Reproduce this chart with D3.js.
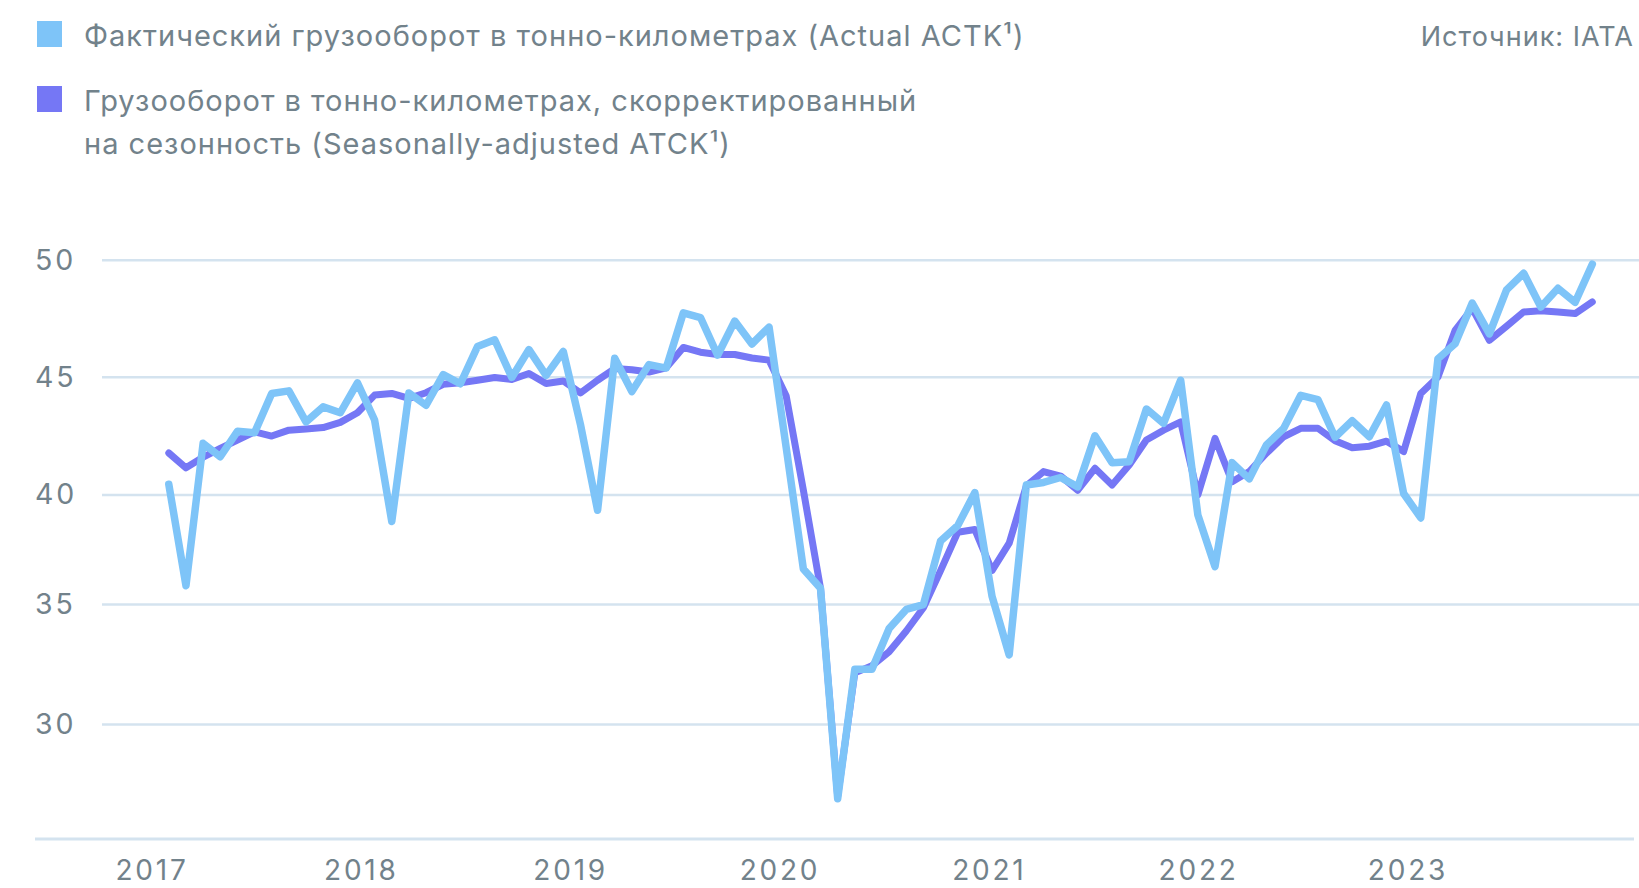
<!DOCTYPE html>
<html>
<head>
<meta charset="utf-8">
<script src="https://cdn.jsdelivr.net/npm/d3@7"></script>
<style>
  html, body { margin: 0; padding: 0; background: #ffffff; }
  svg { display: block; }
  text { font-family: "Inter", "Noto Sans", sans-serif; }
</style>
</head>
<body>
<svg id="chart" width="1639" height="888"></svg>
<script>
// ---- data ----
const years = [2017, 2018, 2019, 2020, 2021, 2022, 2023];
const monthNums = ["01","02","03","04","05","06","07","08","09","10","11","12"];
const months = years.flatMap(y => monthNums.map(m => `${y}-${m}`));

const yTicks = [30, 35, 40, 45, 50];

// Actual ACTK (billions), Jan 2017 – Dec 2023
const actual = [
  40.45, 35.86, 42.19, 41.62, 42.70, 42.64, 44.31, 44.42, 43.10, 43.74, 43.49, 44.76,
  43.18, 38.79, 44.33, 43.81, 45.11, 44.72, 46.31, 46.60, 44.99, 46.18, 45.08, 46.10,
  43.00, 39.30, 45.81, 44.39, 45.54, 45.39, 47.75, 47.55, 45.94, 47.40, 46.42, 47.14,
  42.00, 36.62, 35.74, 26.90, 32.30, 32.30, 34.00, 34.80, 35.00, 37.90, 38.60, 40.10,
  35.38, 32.90, 40.42, 40.53, 40.74, 40.34, 42.51, 41.37, 41.41, 43.65, 43.04, 44.87,
  39.09, 36.73, 41.37, 40.68, 42.12, 42.82, 44.23, 44.05, 42.45, 43.15, 42.47, 43.82,
  40.06, 38.95, 45.79, 46.43, 48.17, 46.85, 48.73, 49.44, 48.00, 48.80, 48.20, 49.83
];

// Seasonally-adjusted ACTK
const seasonal = [
  41.78, 41.15, 41.60, 41.98, 42.33, 42.68, 42.50, 42.75, 42.80, 42.86, 43.08, 43.49,
  44.24, 44.31, 44.10, 44.34, 44.70, 44.76, 44.87, 44.99, 44.90, 45.16, 44.73, 44.84,
  44.33, 44.87, 45.37, 45.32, 45.22, 45.40, 46.27, 46.07, 45.97, 45.97, 45.82, 45.73,
  44.20, 40.20, 35.74, 27.00, 32.15, 32.45, 33.03, 33.90, 34.87, 36.55, 38.30, 38.42,
  36.55, 37.80, 40.38, 40.99, 40.80, 40.20, 41.13, 40.42, 41.27, 42.33, 42.75, 43.10,
  40.00, 42.40, 40.56, 40.99, 41.77, 42.47, 42.83, 42.83, 42.30, 42.00, 42.07, 42.28,
  41.84, 44.31, 45.01, 47.00, 47.94, 46.58, 47.18, 47.79, 47.84, 47.79, 47.72, 48.22
];

const legendItems = [
  { lines: ["Фактический грузооборот в тонно-километрах (Actual ACTK¹)"], color: "#7EC4F8" },
  { lines: ["Грузооборот в тонно-километрах, скорректированный",
            "на сезонность (Seasonally-adjusted ATCK¹)"], color: "#7577F5" }
];
const sourceText = "Источник: IATA";

// ---- layout ----
const svg = d3.select("#chart");
const textColor = "#72828b";
const gridColor = "#d4e3ef";

const x = d3.scalePoint().domain(months).range([168.8, 1592.3]);
const y = d3.scaleLinear().domain([30, 35, 40, 45, 50]).range([724.4, 604.6, 494.9, 377.2, 260.2]);
const xYear = d3.scaleLinear().domain([2017, 2023]).range([152, 1408]);

// gridlines
const grid = svg.append("g");
grid.selectAll("line").data(yTicks).join("line")
  .attr("x1", 102).attr("x2", 1639)
  .attr("y1", d => y(d)).attr("y2", d => y(d))
  .attr("stroke", gridColor).attr("stroke-width", 2.5);

// baseline
svg.append("line")
  .attr("x1", 35).attr("x2", 1634).attr("y1", 839).attr("y2", 839)
  .attr("stroke", gridColor).attr("stroke-width", 3);

// y labels
svg.append("g").selectAll("text").data(yTicks).join("text")
  .attr("x", 35).attr("y", d => y(d) + 9.5)
  .attr("fill", textColor).attr("font-size", 28.5)
  .attr("letter-spacing", 2.8)
  .text(d => d);

// x labels
svg.append("g").selectAll("text").data(years).join("text")
  .attr("x", d => xYear(d)).attr("y", 880)
  .attr("text-anchor", "middle")
  .attr("fill", textColor).attr("font-size", 28)
  .attr("letter-spacing", 2.8)
  .text(d => d);

// lines
const line = d3.line().x((d, i) => x(months[i])).y(d => y(d));
svg.append("path").datum(seasonal)
  .attr("d", line).attr("fill", "none")
  .attr("stroke", "#7577F5").attr("stroke-width", 7)
  .attr("stroke-linejoin", "round").attr("stroke-linecap", "round");
svg.append("path").datum(actual)
  .attr("d", line).attr("fill", "none")
  .attr("stroke", "#7EC4F8").attr("stroke-width", 7.5)
  .attr("stroke-linejoin", "round").attr("stroke-linecap", "round");

// legend
const legendTops = [21, 86];
const lg = svg.append("g");
legendItems.forEach((item, k) => {
  lg.append("rect")
    .attr("x", 37).attr("y", legendTops[k]).attr("width", 25).attr("height", 26)
    .attr("fill", item.color);
  item.lines.forEach((ln, j) => {
    lg.append("text")
      .attr("x", 84).attr("y", legendTops[k] + 25 + j * 43)
      .attr("fill", textColor).attr("font-size", 29)
      .attr("letter-spacing", 1)
      .text(ln);
  });
});

svg.append("text")
  .attr("x", 1634).attr("y", 46)
  .attr("text-anchor", "end")
  .attr("fill", textColor).attr("font-size", 27)
  .attr("letter-spacing", 1)
  .text(sourceText);
</script>
</body>
</html>
